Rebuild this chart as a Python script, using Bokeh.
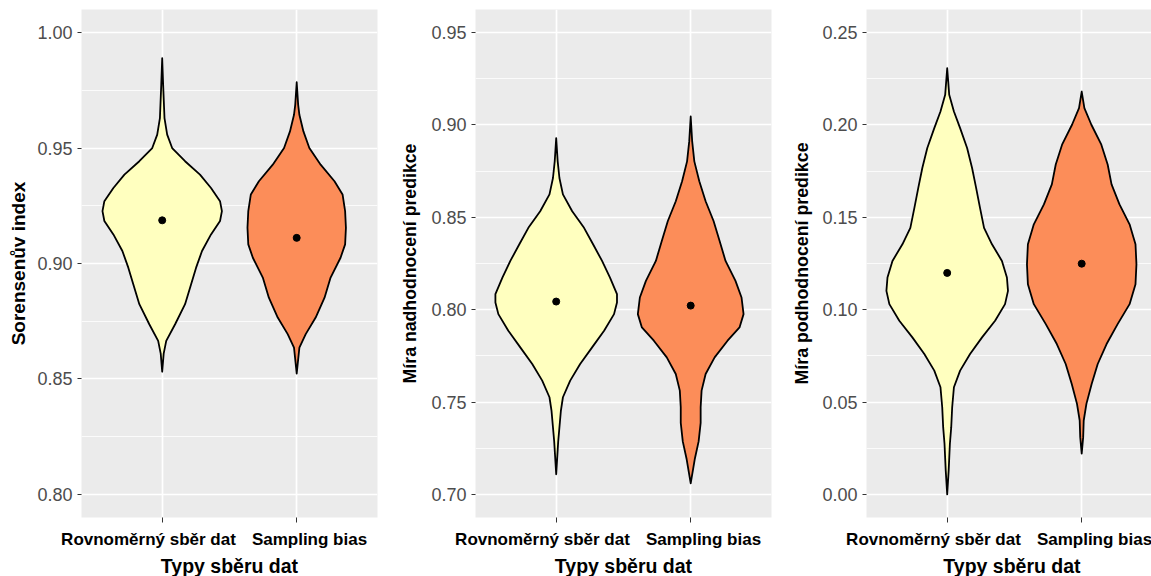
from bokeh.plotting import figure
from bokeh.models import (Range1d, FixedTicker, PrintfTickFormatter, ColumnDataSource,
                          LinearAxis)
from bokeh.layouts import row
from bokeh.embed import file_html
from bokeh.resources import INLINE

# ---------------- data ----------------
categories = ["Rovnoměrný sběr dat", "Sampling bias"]
cat_pos = [1, 2]
fill_colors = ["#FFFFBF", "#FC8D59"]
x_title = "Typy sběru dat"

# Panel 1: Sorensenův index (violin outline: y value, half-width in category units)
sor_rov_y = [0.9889, 0.9774, 0.9630, 0.9558, 0.9500, 0.9443, 0.9385, 0.9327, 0.9270, 0.9227,
             0.9184, 0.9126, 0.9054, 0.8982, 0.8910, 0.8824, 0.8737, 0.8665, 0.8610, 0.8531]
sor_rov_w = [0.0, 0.007, 0.017, 0.037, 0.074, 0.170, 0.281, 0.363, 0.430, 0.444,
             0.430, 0.363, 0.296, 0.252, 0.215, 0.170, 0.096, 0.030, 0.011, 0.0]
sor_sb_y = [0.9785, 0.9687, 0.9644, 0.9572, 0.9500, 0.9428, 0.9356, 0.9299, 0.9227, 0.9155,
            0.9083, 0.9025, 0.8939, 0.8852, 0.8766, 0.8694, 0.8636, 0.8523]
sor_sb_w = [0.0, 0.011, 0.020, 0.050, 0.094, 0.178, 0.281, 0.341, 0.360, 0.366,
            0.360, 0.326, 0.252, 0.207, 0.141, 0.067, 0.020, 0.0]
sor_means = [0.9187, 0.9111]

# Panel 2: Míra nadhodnocení predikce
nad_rov_y = [0.8929, 0.8803, 0.8713, 0.8624, 0.8533, 0.8443, 0.8354, 0.8264, 0.8174, 0.8084,
             0.8039, 0.7976, 0.7886, 0.7796, 0.7706, 0.7616, 0.7526, 0.7454, 0.7288, 0.7109]
nad_rov_w = [0.0, 0.011, 0.024, 0.050, 0.119, 0.207, 0.274, 0.341, 0.400, 0.452,
             0.452, 0.430, 0.356, 0.267, 0.178, 0.104, 0.050, 0.035, 0.015, 0.0]
nad_sb_y = [0.9046, 0.8911, 0.8803, 0.8695, 0.8587, 0.8480, 0.8372, 0.8264, 0.8156, 0.8066,
            0.7976, 0.7904, 0.7832, 0.7742, 0.7652, 0.7562, 0.7472, 0.7387, 0.7287, 0.7190, 0.7060]
nad_sb_w = [0.0, 0.011, 0.027, 0.064, 0.111, 0.170, 0.215, 0.259, 0.333, 0.378,
            0.393, 0.363, 0.274, 0.178, 0.111, 0.081, 0.074, 0.074, 0.059, 0.030, 0.0]
nad_means = [0.8044, 0.8022]

# Panel 3: Míra podhodnocení predikce
pod_rov_y = [0.2307, 0.2163, 0.2073, 0.1983, 0.1875, 0.1767, 0.1659, 0.1551, 0.1443, 0.1354,
             0.1264, 0.1174, 0.1102, 0.1030, 0.0940, 0.0850, 0.0760, 0.0670, 0.0580, 0.0472,
             0.0364, 0.0274, 0.0130, 0.0000]
pod_rov_w = [0.0, 0.015, 0.050, 0.096, 0.148, 0.185, 0.215, 0.244, 0.274, 0.333,
             0.407, 0.444, 0.452, 0.430, 0.356, 0.259, 0.170, 0.096, 0.050, 0.037,
             0.030, 0.020, 0.011, 0.0]
pod_sb_y = [0.2181, 0.2091, 0.2001, 0.1893, 0.1786, 0.1678, 0.1570, 0.1462, 0.1354, 0.1246,
            0.1138, 0.1030, 0.0922, 0.0814, 0.0706, 0.0598, 0.0490, 0.0400, 0.0310, 0.0221]
pod_sb_w = [0.0, 0.020, 0.072, 0.146, 0.193, 0.222, 0.281, 0.356, 0.400, 0.407,
            0.400, 0.356, 0.267, 0.185, 0.119, 0.074, 0.035, 0.015, 0.011, 0.0]
pod_means = [0.1199, 0.1249]

panel_titles = ["Sorensenův index", "Míra nadhodnocení predikce", "Míra podhodnocení predikce"]
panel_major = [[0.80, 0.85, 0.90, 0.95, 1.00],
               [0.70, 0.75, 0.80, 0.85, 0.90, 0.95],
               [0.00, 0.05, 0.10, 0.15, 0.20, 0.25]]
panel_minor = [[0.775, 0.825, 0.875, 0.925, 0.975],
               [0.675, 0.725, 0.775, 0.825, 0.875, 0.925],
               [0.025, 0.075, 0.125, 0.175, 0.225]]
panel_ylim = [(0.79, 1.01), (0.6875, 0.9625), (-0.0125, 0.2625)]

FONT = "Liberation Sans"
PX_PER_CAT = 134.5      # pixels per category step on the data axis
LABEL_PX_PER_CAT = 161  # label spacing (labels sit slightly wider apart than ticks)
LABEL_LEFT_PX = 67      # first label centre from frame left


def make_panel(idx, violins, means, frame_w, b_left, b_right, ylab_size, ylab_standoff):
    x_end = 0.4 + frame_w / PX_PER_CAT
    p = figure(frame_width=frame_w, frame_height=508, output_backend="svg",
               toolbar_location=None, tools="",
               x_range=Range1d(0.4, x_end), y_range=Range1d(*panel_ylim[idx]),
               min_border_left=b_left, min_border_right=b_right,
               min_border_top=9, min_border_bottom=0)
    p.background_fill_color = "#EBEBEB"
    p.border_fill_color = "white"
    p.outline_line_color = None

    # grids
    p.xgrid.ticker = FixedTicker(ticks=cat_pos)
    p.ygrid.ticker = FixedTicker(ticks=panel_major[idx], minor_ticks=panel_minor[idx])
    for g in (p.xgrid, p.ygrid):
        g.grid_line_color = "white"
        g.grid_line_width = 1.7
    p.ygrid.minor_grid_line_color = "white"
    p.ygrid.minor_grid_line_width = 0.8

    # violins
    for (ys, ws), c, col in zip(violins, cat_pos, fill_colors):
        xs = [c - w for w in ws] + [c + w for w in reversed(ws)]
        yy = list(ys) + list(reversed(ys))
        p.patch(xs, yy, fill_color=col, line_color="black", line_width=1.8,
                line_join="round")
    src = ColumnDataSource(dict(x=cat_pos, y=means))
    p.scatter("x", "y", source=src, size=7, color="black")

    # x axis: tick marks only
    xa = p.xaxis[0]
    xa.ticker = FixedTicker(ticks=cat_pos)
    xa.major_label_overrides = {c: "" for c in cat_pos}
    xa.major_label_text_font_size = "0px"
    xa.major_label_standoff = 0
    xa.axis_line_color = None
    xa.major_tick_line_color = "#333333"
    xa.major_tick_out = 5
    xa.major_tick_in = 0
    xa.minor_tick_line_color = None

    # x axis: category labels + title
    lab_start = 1 - LABEL_LEFT_PX / LABEL_PX_PER_CAT
    p.extra_x_ranges = {"lab": Range1d(lab_start, lab_start + frame_w / LABEL_PX_PER_CAT)}
    la = LinearAxis(x_range_name="lab", ticker=FixedTicker(ticks=cat_pos))
    la.major_label_overrides = {c: n for c, n in zip(cat_pos, categories)}
    la.axis_line_color = None
    la.major_tick_line_color = None
    la.minor_tick_line_color = None
    la.major_tick_out = 0
    la.major_tick_in = 0
    la.major_label_standoff = 7
    la.major_label_text_font = FONT
    la.major_label_text_font_style = "bold"
    la.major_label_text_font_size = "17px"
    la.major_label_text_color = "black"
    la.axis_label = x_title
    la.axis_label_text_font = FONT
    la.axis_label_text_font_style = "bold"
    la.axis_label_text_font_size = "19.5px"
    la.axis_label_text_color = "black"
    la.axis_label_standoff = 3
    p.add_layout(la, "below")

    # y axis
    ya = p.yaxis[0]
    ya.ticker = FixedTicker(ticks=panel_major[idx])
    ya.formatter = PrintfTickFormatter(format="%.2f")
    ya.axis_line_color = None
    ya.major_tick_line_color = "#333333"
    ya.major_tick_out = 4
    ya.major_tick_in = 0
    ya.minor_tick_line_color = None
    ya.major_label_standoff = 5
    ya.major_label_text_font = FONT
    ya.major_label_text_font_size = "18px"
    ya.major_label_text_color = "#4D4D4D"
    ya.axis_label = panel_titles[idx]
    ya.axis_label_text_font = FONT
    ya.axis_label_text_font_style = "bold"
    ya.axis_label_text_font_size = ylab_size
    ya.axis_label_text_color = "black"
    ya.axis_label_standoff = ylab_standoff
    return p


p1 = make_panel(0, [(sor_rov_y, sor_rov_w), (sor_sb_y, sor_sb_w)], sor_means,
                296, 81, 20, "19px", 5)
p2 = make_panel(1, [(nad_rov_y, nad_rov_w), (nad_sb_y, nad_sb_w)], nad_means,
                296, 74, 18, "17.7px", 8)
p3 = make_panel(2, [(pod_rov_y, pod_rov_w), (pod_sb_y, pod_sb_w)], pod_means,
                291, 75, 0, "17.8px", 7)

layout = row(p1, p2, p3, spacing=0)
open("out.html", "w").write(file_html(layout, INLINE))
